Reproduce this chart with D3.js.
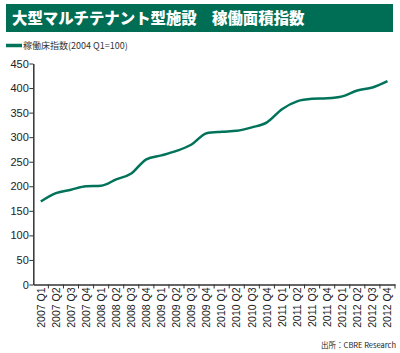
<!DOCTYPE html>
<html>
<head>
<meta charset="utf-8">
<script src="https://cdn.jsdelivr.net/npm/d3@7"></script>
<style>
  body { margin: 0; background: #fff; }
  text { font-family: "Liberation Sans", "Noto Sans CJK JP", sans-serif; }
  .cjk { font-family: "Noto Sans CJK JP", sans-serif; }
  .axis path, .axis line { stroke: #333; }
</style>
</head>
<body>
<svg width="400" height="353"></svg>
<script>
const quarters = [
  "2007 Q1","2007 Q2","2007 Q3","2007 Q4",
  "2008 Q1","2008 Q2","2008 Q3","2008 Q4",
  "2009 Q1","2009 Q2","2009 Q3","2009 Q4",
  "2010 Q1","2010 Q2","2010 Q3","2010 Q4",
  "2011 Q1","2011 Q2","2011 Q3","2011 Q4",
  "2012 Q1","2012 Q2","2012 Q3","2012 Q4"
];
const indexValues = [
  169, 186, 193, 200,
  201, 214, 226, 255,
  263, 272, 285, 308,
  311, 313, 320, 330,
  357, 373, 378, 379,
  383, 395, 401, 414
];
const yTicks = [0, 50, 100, 150, 200, 250, 300, 350, 400, 450];

const titleText = "大型マルチテナント型施設　稼働面積指数";
const legendText = "稼働床指数(2004 Q1=100)";
const sourceText = "出所：CBRE Research";

const green = "#00735a";
const margin = {top: 63.5, right: 5, bottom: 68.5, left: 33.3};

const svg = d3.select("svg");
const width = +svg.attr("width") - margin.left - margin.right;
const height = +svg.attr("height") - margin.top - margin.bottom;

// title banner
svg.append("rect")
  .attr("x", 6).attr("y", 4)
  .attr("width", 387).attr("height", 28)
  .attr("fill", "#006e55");
svg.append("text")
  .attr("class", "cjk")
  .attr("x", 12).attr("y", 24)
  .attr("fill", "#fff")
  .attr("font-size", 15.4)
  .attr("font-weight", 900)
  .text(titleText);

// legend
svg.append("line")
  .attr("x1", 6).attr("x2", 22)
  .attr("y1", 45.5).attr("y2", 45.5)
  .attr("stroke", green).attr("stroke-width", 3.5);
svg.append("text")
  .attr("class", "cjk")
  .attr("x", 23).attr("y", 49)
  .attr("font-size", 9)
  .attr("fill", "#333")
  .text(legendText);

const vis = svg.append("g")
  .attr("transform", `translate(${margin.left},${margin.top})`);

const x = d3.scaleBand()
  .domain(quarters)
  .range([0, width]);

const y = d3.scaleLinear()
  .domain([0, 450])
  .range([height, 0]);

// y axis
const yAxis = vis.append("g")
  .attr("class", "axis")
  .call(d3.axisLeft(y).tickValues(yTicks).tickSize(4).tickSizeOuter(0));
yAxis.select(".domain").attr("stroke-width", 1.5);
yAxis.selectAll("text")
  .attr("font-size", 11)
  .attr("fill", "#222")
  .attr("x", -4.5);

// x axis with ticks on band edges
const xAxis = vis.append("g")
  .attr("class", "axis")
  .attr("transform", `translate(0,${height})`)
  .call(d3.axisBottom(x).tickSize(0).tickSizeOuter(0));
xAxis.select(".domain").attr("stroke-width", 1.5);
xAxis.selectAll("text")
  .attr("font-size", 10.5)
  .attr("fill", "#222")
  .attr("transform", "rotate(-90)")
  .attr("text-anchor", "end")
  .attr("dy", "0.35em")
  .attr("x", -3)
  .attr("y", 0);

xAxis.selectAll(".edge")
  .data(quarters.slice(1).concat(["end"]))
  .enter()
  .append("line")
  .attr("class", "edge")
  .attr("x1", (d, i) => x.step() * (i + 1))
  .attr("x2", (d, i) => x.step() * (i + 1))
  .attr("y1", 0).attr("y2", 4)
  .attr("stroke", "#333");

// line
const line = d3.line()
  .x((d, i) => x(quarters[i]) + x.bandwidth() / 2)
  .y(d => y(d))
  .curve(d3.curveMonotoneX);

vis.append("path")
  .datum(indexValues)
  .attr("fill", "none")
  .attr("stroke", green)
  .attr("stroke-width", 2.5)
  .attr("stroke-linejoin", "round")
  .attr("d", line);

// source
svg.append("text")
  .attr("class", "cjk")
  .attr("x", 396).attr("y", 348)
  .attr("text-anchor", "end")
  .attr("font-size", 7.5)
  .attr("fill", "#222")
  .text(sourceText);
</script>
</body>
</html>
